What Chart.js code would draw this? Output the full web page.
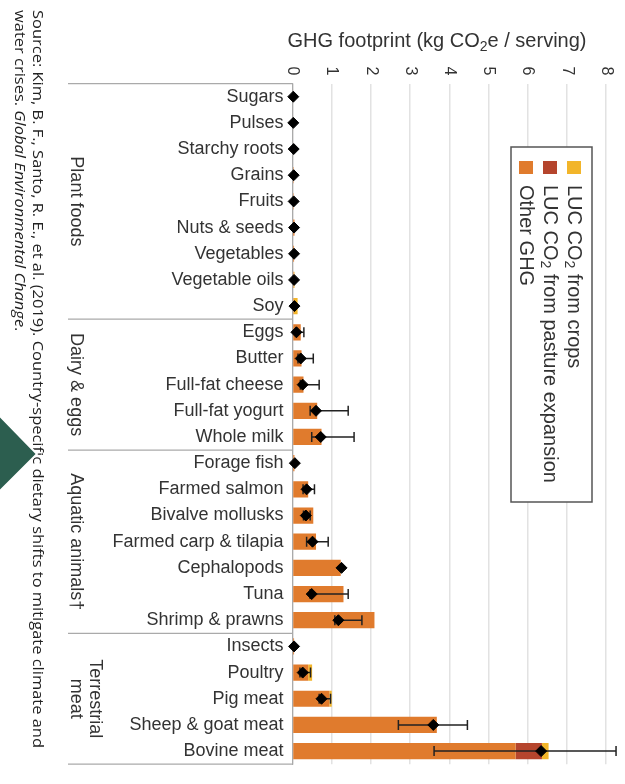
<!DOCTYPE html>
<html>
<head>
<meta charset="utf-8">
<script src="https://cdn.jsdelivr.net/npm/chart.js@4.4.1/dist/chart.umd.min.js"></script>
<style>
  body { margin: 0; background: #fff; }
  canvas { display: block; }
</style>
</head>
<body>
<canvas id="chartId" width="625" height="784"></canvas>
<script>
// categories, top to bottom
const categories = [
  "Sugars", "Pulses", "Starchy roots", "Grains", "Fruits", "Nuts & seeds",
  "Vegetables", "Vegetable oils", "Soy",
  "Eggs", "Butter", "Full-fat cheese", "Full-fat yogurt", "Whole milk",
  "Forage fish", "Farmed salmon", "Bivalve mollusks", "Farmed carp & tilapia",
  "Cephalopods", "Tuna", "Shrimp & prawns",
  "Insects", "Poultry", "Pig meat", "Sheep & goat meat", "Bovine meat"
];
// groups on the left, with number of rows in each
const groupNames = [["Plant foods"], ["Dairy & eggs"], ["Aquatic animals\u2020"], ["Terrestrial", "meat"]];
const groupSizes = [9, 5, 7, 5];

// stacked bar values (kg CO2e / serving)
const otherGHG = [0.02, 0.02, 0.02, 0.03, 0.03, 0.05, 0.04, 0.03, 0.03,
  0.21, 0.23, 0.28, 0.63, 0.74,
  0.05, 0.40, 0.53, 0.60, 1.23, 1.30, 2.09,
  0.04, 0.40, 0.94, 3.68, 5.69];
const lucPasture = [0, 0, 0, 0, 0, 0, 0, 0, 0,
  0, 0, 0, 0, 0,
  0, 0, 0, 0, 0, 0, 0,
  0, 0, 0, 0, 0.67];
const lucCrops = [0, 0, 0, 0, 0, 0, 0, 0.02, 0.10,
  0, 0, 0, 0, 0,
  0, 0, 0, 0, 0, 0, 0,
  0, 0.10, 0.06, 0, 0.17];

// diamonds and their ranges
const median = [0.02, 0.02, 0.03, 0.03, 0.03, 0.04, 0.04, 0.04, 0.05,
  0.10, 0.21, 0.26, 0.60, 0.72,
  0.06, 0.36, 0.34, 0.51, 1.25, 0.49, 1.17,
  0.04, 0.26, 0.74, 3.59, 6.34];
const errLow = [null, null, null, null, null, null, null, null, null,
  0.10, 0.14, 0.20, 0.45, 0.49,
  null, 0.27, 0.28, 0.36, null, 0.45, 1.08,
  null, 0.19, 0.68, 2.70, 3.61];
const errHigh = [null, null, null, null, null, null, null, null, null,
  0.29, 0.53, 0.68, 1.42, 1.57,
  null, 0.56, 0.45, 0.91, null, 1.42, 1.77,
  null, 0.46, 0.97, 4.46, 8.25];

const xTicks = [0, 1, 2, 3, 4, 5, 6, 7, 8];

const ORANGE = "#e07b2d";
const RED = "#b5452d";
const YELLOW = "#f2b52a";
const FONT = "'Liberation Sans', Arial, sans-serif";
const TEXT = "#333";

// draw text rotated 90deg clockwise (reads top to bottom)
function rotText(ctx, parts, x, y, align) {
  ctx.save();
  ctx.translate(x, y);
  ctx.rotate(Math.PI / 2);
  ctx.textBaseline = "middle";
  ctx.textAlign = "left";
  let w = 0;
  parts.forEach(p => { ctx.font = p.font; w += ctx.measureText(p.t).width; });
  let cx = align === "center" ? -w / 2 : 0;
  parts.forEach(p => {
    ctx.font = p.font;
    ctx.fillText(p.t, cx, p.dy || 0);
    cx += ctx.measureText(p.t).width;
  });
  ctx.restore();
}

const decorations = {
  id: "decorations",
  beforeDatasetDraw(chart, args) {
    if (args.index !== 3) return;
    // error bars, under the diamonds
    const ctx = chart.ctx, xs = chart.scales.x, ys = chart.scales.y;
    ctx.save();
    ctx.strokeStyle = "#222";
    ctx.lineWidth = 1.5;
    for (let i = 0; i < categories.length; i++) {
      if (errLow[i] == null) continue;
      const y = ys.getPixelForValue(i);
      const x1 = xs.getPixelForValue(errLow[i]);
      const x2 = xs.getPixelForValue(errHigh[i]);
      ctx.beginPath();
      ctx.moveTo(x1, y); ctx.lineTo(x2, y);
      ctx.moveTo(x1, y - 5); ctx.lineTo(x1, y + 5);
      ctx.moveTo(x2, y - 5); ctx.lineTo(x2, y + 5);
      ctx.stroke();
    }
    ctx.restore();
  },
  afterDraw(chart) {
    const ctx = chart.ctx, xs = chart.scales.x, ys = chart.scales.y;
    const area = chart.chartArea;
    const row = ys.getPixelForValue(1) - ys.getPixelForValue(0);
    ctx.save();
    ctx.fillStyle = TEXT;

    // title
    const big = "20px " + FONT, small = "14px " + FONT;
    const t1 = "GHG footprint (kg CO", t2 = "2", t3 = "e / serving)";
    ctx.font = big; const w1 = ctx.measureText(t1).width, w3 = ctx.measureText(t3).width;
    ctx.font = small; const w2 = ctx.measureText(t2).width;
    let tx = 437 - (w1 + w2 + w3) / 2;
    ctx.textBaseline = "alphabetic"; ctx.textAlign = "left";
    ctx.font = big; ctx.fillText(t1, tx, 47); tx += w1;
    ctx.font = small; ctx.fillText(t2, tx, 51); tx += w2;
    ctx.font = big; ctx.fillText(t3, tx, 47);

    // x tick labels, rotated
    xTicks.forEach(v => {
      rotText(ctx, [{ t: String(v), font: "16px " + FONT }], xs.getPixelForValue(v), 71, "center");
    });

    // group separators and labels
    ctx.strokeStyle = "#aaa";
    ctx.lineWidth = 1.2;
    let start = 0;
    const lines = [area.top];
    groupSizes.forEach((n, g) => {
      const top = ys.getPixelForValue(start) - row / 2;
      const bot = ys.getPixelForValue(start + n - 1) + row / 2;
      lines.push(bot);
      const mid = (top + bot) / 2;
      const names = groupNames[g];
      if (names.length === 1) {
        rotText(ctx, [{ t: names[0], font: "18px " + FONT }], 76, mid, "center");
      } else {
        rotText(ctx, [{ t: names[0], font: "18px " + FONT }], 95, mid, "center");
        rotText(ctx, [{ t: names[1], font: "18px " + FONT }], 76, mid, "center");
      }
      start += n;
    });
    lines.forEach(y => {
      ctx.beginPath(); ctx.moveTo(68, y); ctx.lineTo(area.left, y); ctx.stroke();
    });

    // legend box
    ctx.fillStyle = "#fff";
    ctx.fillRect(511, 147, 81, 355);
    ctx.strokeStyle = "#555";
    ctx.lineWidth = 1.5;
    ctx.strokeRect(511, 147, 81, 355);
    const lf = "20px " + FONT, ls = "14px " + FONT;
    const items = [
      { c: YELLOW, x: 574, parts: [{ t: "LUC CO", font: lf }, { t: "2", font: ls, dy: 5 }, { t: " from crops", font: lf }] },
      { c: RED, x: 550, parts: [{ t: "LUC CO", font: lf }, { t: "2", font: ls, dy: 5 }, { t: " from pasture expansion", font: lf }] },
      { c: ORANGE, x: 526, parts: [{ t: "Other GHG", font: lf }] }
    ];
    items.forEach(it => {
      ctx.fillStyle = it.c;
      ctx.fillRect(it.x - 7, 161, 14, 13);
      ctx.fillStyle = TEXT;
      rotText(ctx, it.parts, it.x, 185, "left");
    });

    // source note
    ctx.fillStyle = "#222";
    const sf = "14px 'Open Sans', sans-serif", si = "italic 14px 'Open Sans', sans-serif";
    const s1 = "Source: Kim, B. F., Santo, R. E., et al. (2019). Country-specific dietary shifts to mitigate climate and";
    ctx.font = sf;
    const k = 738 / ctx.measureText(s1).width;
    ctx.save();
    ctx.translate(37, 10);
    ctx.rotate(Math.PI / 2);
    ctx.scale(k, 1);
    ctx.textBaseline = "middle"; ctx.textAlign = "left";
    ctx.font = sf; ctx.fillText(s1, 0, 0);
    const s2a = "water crises. ", s2b = "Global Environmental Change", s2c = ".";
    let sx = 0;
    ctx.font = sf; ctx.fillText(s2a, sx, 18); sx += ctx.measureText(s2a).width;
    ctx.font = si; ctx.fillText(s2b, sx, 18); sx += ctx.measureText(s2b).width;
    ctx.font = sf; ctx.fillText(s2c, sx, 18);
    ctx.restore();

    // green arrow on the left edge
    ctx.beginPath();
    ctx.moveTo(-2, 414); ctx.lineTo(37, 454); ctx.lineTo(-2, 493);
    ctx.closePath();
    ctx.fillStyle = "#2c5e4f";
    ctx.fill();
    ctx.strokeStyle = "#fff";
    ctx.lineWidth = 2;
    ctx.stroke();
    ctx.restore();
  }
};

const chrt = document.getElementById("chartId").getContext("2d");
const chartId = new Chart(chrt, {
  type: "bar",
  data: {
    labels: categories,
    datasets: [
      { label: "Other GHG", data: otherGHG, backgroundColor: ORANGE, order: 1 },
      { label: "LUC CO2 from pasture expansion", data: lucPasture, backgroundColor: RED, order: 2 },
      { label: "LUC CO2 from crops", data: lucCrops, backgroundColor: YELLOW, order: 3 },
      {
        type: "line", label: "median", indexAxis: "y",
        data: median.map((v, i) => ({ x: v, y: categories[i] })),
        showLine: false, pointStyle: "rectRot", pointRadius: 5.5,
        backgroundColor: "#000", borderColor: "#000", borderWidth: 1,
        clip: false, order: 0
      }
    ]
  },
  options: {
    indexAxis: "y",
    responsive: false,
    animation: false,
    categoryPercentage: 1,
    barPercentage: 0.62,
    layout: { padding: { top: 0, right: 7, bottom: 4, left: 0 } },
    scales: {
      x: {
        position: "top", stacked: true, min: 0, max: 8.3,
        ticks: { display: false },
        grid: { color: "#e2e2e2", lineWidth: 1.5, drawTicks: false },
        border: { display: false },
        afterBuildTicks(s) { s.ticks = xTicks.map(v => ({ value: v })); },
        afterFit(s) { s.height = 83.6; }
      },
      y: {
        stacked: true,
        ticks: { font: { size: 18, family: FONT }, color: TEXT, padding: 9, autoSkip: false },
        grid: { display: false, drawTicks: false },
        border: { color: "#aaa", width: 1.2 },
        afterFit(s) { s.width = 292.5; }
      }
    },
    plugins: { legend: { display: false }, tooltip: { enabled: false } }
  },
  plugins: [decorations]
});
</script>
</body>
</html>
